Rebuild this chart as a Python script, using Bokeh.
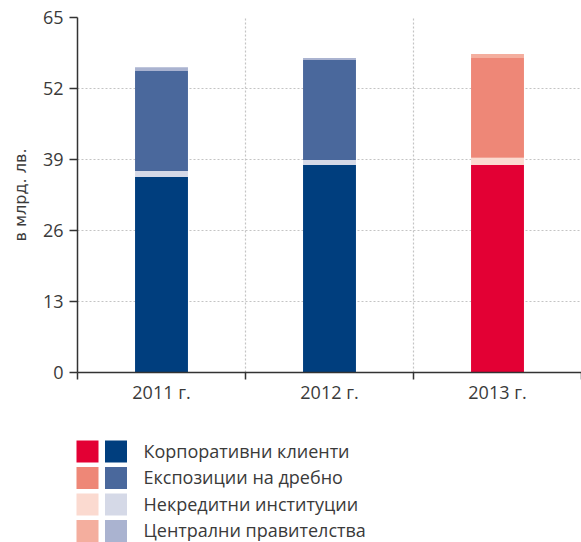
import numpy as np
from bokeh.plotting import figure
from bokeh.models import Range1d, FixedTicker, ColumnDataSource
from bokeh.layouts import column
from bokeh.core.properties import value, field
from bokeh.embed import file_html
from bokeh.resources import INLINE

years = ["2011 г.", "2012 г.", "2013 г."]
series_names = ["Корпоративни клиенти", "Експозиции на дребно",
                "Некредитни институции", "Централни правителства"]
corporate = [35.8, 38.0, 38.0]
noncredit = [1.1, 0.9, 1.3]
retail = [18.3, 18.3, 18.3]
central = [0.7, 0.4, 0.7]
y_ticks = [0, 13, 26, 39, 52, 65]

blue_cols = {"corporate": "#003e7e", "retail": "#4a689c", "noncredit": "#d5d9e7", "central": "#aab3d0"}
red_cols = {"corporate": "#e30034", "retail": "#ee8777", "noncredit": "#fbdad0", "central": "#f4ae9e"}
year_palette = ["blue", "blue", "red"]

FONT = "Open Sans"
TXT = "#3a3a3a"

p = figure(width=581, height=413, output_backend="svg", toolbar_location=None,
           x_range=Range1d(0, 3), y_range=Range1d(0, 65),
           min_border_left=77, min_border_right=0, min_border_top=17, min_border_bottom=41,
           frame_align=False)
p.outline_line_color = None
p.background_fill_color = "white"

x = np.arange(len(years)) + 0.5
stack_order = [("corporate", corporate), ("noncredit", noncredit), ("retail", retail), ("central", central)]
bottom = np.zeros(len(years))
for key, vals in stack_order:
    vals = np.array(vals, dtype=float)
    cols = [(blue_cols if pal == "blue" else red_cols)[key] for pal in year_palette]
    src = ColumnDataSource(dict(x=x, bottom=bottom, top=bottom + vals, color=cols))
    p.vbar(x="x", bottom="bottom", top="top", width=0.315, color="color", line_color=None, source=src)
    bottom = bottom + vals

# axes
p.yaxis.ticker = FixedTicker(ticks=y_ticks)
p.yaxis.axis_label = "в млрд. лв."
p.yaxis.axis_label_text_font = "DejaVu Sans"
p.yaxis.axis_label_text_font_style = "normal"
p.yaxis.axis_label_text_font_size = "16px"
p.yaxis.axis_label_text_color = TXT
p.yaxis.axis_label_standoff = 10
p.yaxis.major_label_text_font = FONT
p.yaxis.major_label_text_font_size = "18px"
p.yaxis.major_label_text_color = TXT
p.yaxis.major_tick_out = 8
p.yaxis.major_tick_in = 0
p.yaxis.minor_tick_out = 0
p.yaxis.minor_tick_in = 0
p.yaxis.major_label_standoff = 6

p.xaxis.ticker = FixedTicker(ticks=list(x), minor_ticks=list(range(len(years) + 1)))
p.xaxis.major_label_overrides = {float(xi): yr for xi, yr in zip(x, years)}
p.xaxis.major_label_text_font = FONT
p.xaxis.major_label_text_font_size = "18px"
p.xaxis.major_label_text_color = TXT
p.xaxis.major_tick_out = 0
p.xaxis.major_tick_in = 0
p.xaxis.minor_tick_out = 7
p.xaxis.minor_tick_in = 0
p.xaxis.major_label_standoff = 0

for ax in (p.xaxis, p.yaxis):
    ax.axis_line_color = "#333333"
    ax.axis_line_width = 1.5
    ax.major_tick_line_color = "#333333"
    ax.minor_tick_line_color = "#333333"
    ax.major_tick_line_width = 1.5
    ax.minor_tick_line_width = 1.5

p.xgrid.ticker = FixedTicker(ticks=list(range(1, len(years) + 1)))
p.ygrid.ticker = FixedTicker(ticks=y_ticks[1:])
for g in (p.xgrid, p.ygrid):
    g.grid_line_color = "#c4c4c4"
    g.grid_line_dash = "2 2"
    g.grid_line_width = 1.2

# legend figure (coordinates: screen pixels within this figure)
LG_H = 129
lg = figure(width=581, height=LG_H, output_backend="svg", toolbar_location=None,
            x_range=Range1d(0, 581), y_range=Range1d(LG_H, 0),
            x_axis_location=None, y_axis_location=None,
            min_border=0, min_border_left=0, min_border_right=0, min_border_top=0, min_border_bottom=0,
            frame_align=False)
lg.outline_line_color = None
lg.xgrid.visible = False
lg.ygrid.visible = False
keys = ["corporate", "retail", "noncredit", "central"]
rows = 38 + 26.5 * np.arange(len(series_names))
lsrc = ColumnDataSource(dict(y=rows, red_col=[red_cols[k] for k in keys],
                             blue_col=[blue_cols[k] for k in keys], name=series_names))
lg.rect(x=87, y="y", width=22, height=22, width_units="screen", height_units="screen",
        fill_color=field("red_col"), line_color=None, source=lsrc)
lg.rect(x=115.5, y="y", width=22, height=22, width_units="screen", height_units="screen",
        fill_color=field("blue_col"), line_color=None, source=lsrc)
lg.text(x=143, y="y", text="name", text_font=value(FONT), text_font_size="18px",
        text_color=TXT, text_baseline="middle", y_offset=-1, source=lsrc)

layout = column(p, lg, spacing=0)
open("out.html", "w").write(file_html(layout, INLINE))
